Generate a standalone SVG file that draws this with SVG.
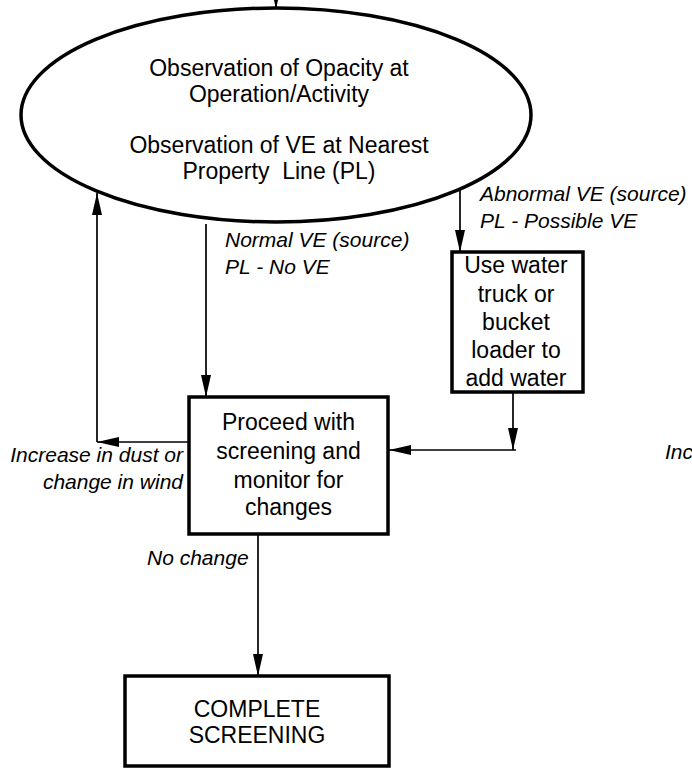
<svg xmlns="http://www.w3.org/2000/svg" width="692" height="769" viewBox="0 0 692 769">
  <style>
    .node { fill: #fff; stroke: #000; stroke-width: 3.5; }
    .main { font-family: "Liberation Sans", Arial, sans-serif; font-size: 23px; fill: #000; text-anchor: middle; }
    .lbl { font-family: "Liberation Sans", Arial, sans-serif; font-size: 21px; font-style: italic; fill: #000; }
    .edge { fill: none; stroke: #000; stroke-width: 1.7; }
  </style>
  <defs>
    <marker id="arrow" markerUnits="userSpaceOnUse" markerWidth="22" markerHeight="10" refX="22" refY="5" orient="auto">
      <path d="M0,0 L22,5 L0,10 Z" fill="#000"/>
    </marker>
  </defs>
  <rect width="692" height="769" fill="#fff"/>

  <!-- connectors -->
  <g id="connectors">
    <path class="edge" d="M276,0 V9" marker-end="url(#arrow)"/>
    <path class="edge" d="M206,224 V397" marker-end="url(#arrow)"/>
    <path class="edge" d="M460,190 V252" marker-end="url(#arrow)"/>
    <path class="edge" d="M513,392 V450" marker-end="url(#arrow)"/>
    <path class="edge" d="M516,450 H389" marker-end="url(#arrow)"/>
    <path class="edge" d="M189,442 H97" marker-end="url(#arrow)"/>
    <path class="edge" d="M97,442 V193" marker-end="url(#arrow)"/>
    <path class="edge" d="M258,535 V676" marker-end="url(#arrow)"/>
  </g>

  <!-- observation ellipse -->
  <g id="observe">
    <ellipse class="node" cx="276" cy="115" rx="255" ry="107" stroke-width="3"/>
    <text class="main" x="279" y="76">Observation of Opacity at</text>
    <text class="main" x="279" y="102">Operation/Activity</text>
    <text class="main" x="279" y="153">Observation of VE at Nearest</text>
    <text class="main" x="279" y="179" xml:space="preserve">Property  Line (PL)</text>
  </g>

  <!-- water application box -->
  <g id="water">
    <rect class="node" x="452" y="252" width="131" height="140"/>
    <text class="main" x="516" y="273">Use water</text>
    <text class="main" x="516" y="302">truck or</text>
    <text class="main" x="516" y="330">bucket</text>
    <text class="main" x="516" y="358">loader to</text>
    <text class="main" x="516" y="386">add water</text>
  </g>

  <!-- proceed box -->
  <g id="proceed">
    <rect class="node" x="189" y="397" width="199" height="137" stroke-width="4"/>
    <text class="main" x="288.5" y="430">Proceed with</text>
    <text class="main" x="288.5" y="459">screening and</text>
    <text class="main" x="288.5" y="488">monitor for</text>
    <text class="main" x="288.5" y="515">changes</text>
  </g>

  <!-- final box -->
  <g id="complete">
    <rect class="node" x="125" y="676" width="264" height="90" stroke-width="3"/>
    <text class="main" x="257" y="717">COMPLETE</text>
    <text class="main" x="257" y="743">SCREENING</text>
  </g>

  <!-- edge labels -->
  <g id="labels">
    <text class="lbl" x="480" y="201">Abnormal VE (source)</text>
    <text class="lbl" x="480" y="228">PL - Possible VE</text>
    <text class="lbl" x="225" y="247">Normal VE (source)</text>
    <text class="lbl" x="225" y="274">PL - No VE</text>
    <text class="lbl" x="183" y="462" text-anchor="end">Increase in dust or</text>
    <text class="lbl" x="183" y="489" text-anchor="end">change in wind</text>
    <text class="lbl" x="665" y="459">Inc</text>
    <text class="lbl" x="147" y="565">No change</text>
  </g>
</svg>
